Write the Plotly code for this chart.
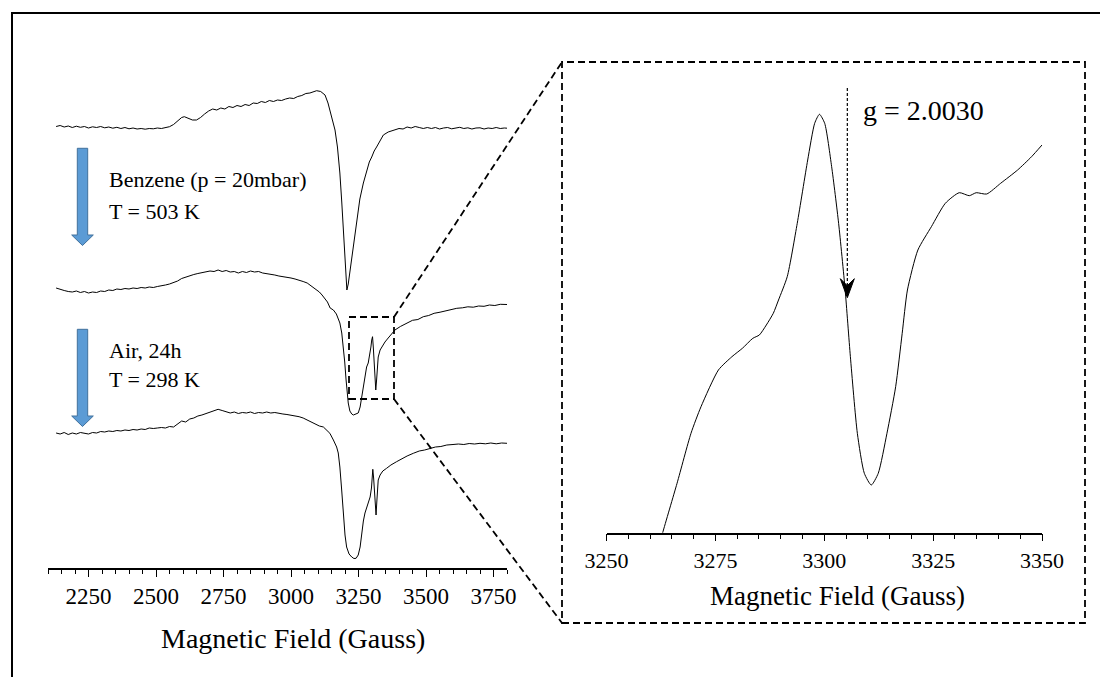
import plotly.graph_objects as go

# ---------------- data ----------------
# Left panel: three stacked EPR spectra, field in Gauss, signal in arbitrary units
field_top = [2130, 2145, 2160, 2175, 2190, 2205, 2220, 2235, 2250, 2265,
             2280, 2295, 2310, 2325, 2340, 2355, 2370, 2385, 2400, 2415,
             2430, 2445, 2460, 2475, 2490, 2505, 2520, 2535, 2550, 2565,
             2580, 2595, 2605, 2620, 2635, 2650, 2665, 2680, 2695, 2710,
             2725, 2740, 2755, 2770, 2785, 2800, 2815, 2830, 2845, 2860,
             2875, 2890, 2905, 2920, 2935, 2950, 2965, 2980, 2995, 3010,
             3025, 3040, 3055, 3070, 3085, 3095, 3110, 3126, 3137, 3144,
             3153, 3163, 3172, 3181, 3188, 3194, 3199, 3203, 3207, 3212,
             3219, 3230, 3243, 3255, 3268, 3280, 3290, 3299, 3308, 3317,
             3330, 3342, 3360, 3379, 3400, 3415, 3430, 3445, 3460, 3475,
             3490, 3505, 3520, 3535, 3550, 3565, 3580, 3595, 3610, 3625,
             3640, 3655, 3670, 3685, 3700, 3715, 3730, 3745, 3760, 3775,
             3790, 3800]
sig_top = [0.5, 1.5, 0, 1, -0.5, 0.8, -0.3, 0.5, -1, 0.2,
           -0.5, 0.5, -0.8, 0, -1.2, -0.3, -1.5, -0.5, -1.8, -1,
           -2, -1.5, -2.2, -1.5, -1.8, -1, -1.5, -0.5, 0.3, 2.5,
           6, 9.5, 10.3, 8.5, 7, 7, 9.5, 13, 16, 18,
           17, 19, 18, 20.5, 19.5, 21.5, 20.5, 22.5, 21.5, 24,
           23.5, 25.5, 24.5, 26.5, 25.5, 27, 26.5, 28, 29, 28.5,
           30.5, 31.5, 33.5, 34, 35.5, 36.3, 35.5, 32, 24, 17,
           7, -3, -20, -46, -75, -103, -130, -153, -163, -157,
           -143, -118, -93, -72, -56, -43, -35, -30, -24, -20,
           -13, -8, -5, -3, -1.5, -2, 0, -1, 0.5, -0.5,
           -1.5, -0.5, -1.5, -0.5, -2, -1, -0.5, -1.8, -1, -0.3,
           -1.5, -0.8, -2, -1, -0.8, -2, -1, -1.5, -0.5, -1.5,
           -1, -1.2]

field_mid = [2130, 2145, 2160, 2175, 2190, 2205, 2220, 2235, 2250, 2265,
             2280, 2295, 2310, 2325, 2340, 2355, 2370, 2385, 2400, 2415,
             2430, 2445, 2460, 2475, 2490, 2505, 2520, 2535, 2550, 2565,
             2580, 2595, 2610, 2625, 2640, 2655, 2670, 2685, 2700, 2715,
             2730, 2745, 2760, 2775, 2790, 2805, 2820, 2835, 2850, 2865,
             2880, 2895, 2910, 2925, 2940, 2955, 2970, 2985, 3000, 3015,
             3030, 3045, 3060, 3075, 3090, 3105, 3115, 3125, 3135, 3145,
             3157, 3168, 3181, 3188, 3194, 3199, 3204, 3208, 3212, 3218,
             3225, 3231, 3240, 3249, 3256, 3262, 3268, 3274, 3280, 3286,
             3291, 3296, 3299, 3302, 3305, 3308, 3311, 3314, 3317, 3320,
             3323, 3330, 3336, 3348, 3360, 3372, 3385, 3405, 3428, 3450,
             3470, 3490, 3510, 3530, 3552, 3575, 3595, 3614, 3635, 3655,
             3675, 3695, 3715, 3735, 3755, 3775, 3800]
sig_mid = [2, 0.5, -0.5, -1.5, -2, -1, -2.5, -1.5, -3, -2,
           -2.5, -1, -1.5, 0, -0.5, 1, 0.5, 1.5, 1, 2,
           1.5, 2.5, 2, 3, 2.5, 3.5, 4, 5, 6, 7.5,
           9, 11.5, 13, 14, 15.5, 16.5, 17.5, 18, 19, 18.5,
           20, 18.5, 19.5, 18, 18.5, 17, 18.5, 17.5, 19, 18,
           18.5, 17, 16.5, 15.5, 15, 14, 13.5, 12.5, 12, 11,
           10, 8.5, 7, 4, 1, -2, -5, -8, -12, -18,
           -20, -24, -33, -43, -57, -72, -90, -102, -113, -121,
           -124, -125, -124, -123, -117, -107, -95, -83, -77, -73,
           -66, -57, -50, -46.7, -58, -73, -88, -100, -90, -75,
           -67, -60, -57, -52, -48, -44, -40, -36.5, -33.3, -30.3,
           -29.5, -26.7, -25.5, -23.3, -22.2, -20.5, -19.5, -18.3, -17.8, -16.8,
           -17.2, -16, -16.3, -15, -15.5, -14.3, -14.5]

field_bot = [2130, 2145, 2160, 2175, 2190, 2205, 2220, 2235, 2250, 2265,
             2280, 2295, 2310, 2325, 2340, 2355, 2370, 2385, 2400, 2415,
             2430, 2445, 2460, 2475, 2490, 2505, 2520, 2535, 2550, 2565,
             2580, 2595, 2610, 2625, 2640, 2655, 2670, 2685, 2700, 2715,
             2730, 2745, 2760, 2775, 2790, 2805, 2820, 2835, 2850, 2865,
             2880, 2895, 2910, 2925, 2940, 2955, 2970, 2985, 3000, 3015,
             3030, 3045, 3060, 3075, 3090, 3105, 3120, 3132, 3144, 3157,
             3169, 3175, 3181, 3188, 3194, 3200, 3206, 3215, 3225, 3233,
             3241, 3249, 3256, 3262, 3268, 3274, 3283, 3293, 3298, 3301,
             3303, 3306, 3309, 3312, 3315, 3318, 3320, 3323, 3330, 3340,
             3354, 3370, 3391, 3410, 3430, 3453, 3475, 3495, 3515, 3535,
             3555, 3577, 3600, 3620, 3640, 3660, 3680, 3700, 3720, 3740,
             3760, 3780, 3800]
sig_bot = [0, -1, 0.5, -1.5, 0, -1, 0.5, -0.5, -1, 0.5,
           0, 1.5, 1, 2, 1.5, 2.5, 2, 3, 2.5, 3.5,
           3, 4, 3.5, 5, 4.5, 5, 5.5, 5, 6.5, 6,
           9, 12, 11, 14, 15, 17, 18, 19.5, 20.5, 22,
           23.7, 22.5, 21, 20, 21, 19.5, 20.5, 20, 21, 19.5,
           20.5, 20, 21, 20, 20.5, 19.5, 19, 18.5, 18, 17,
           16.3, 15, 13, 11.5, 9.5, 7, 6, 3, -0.3, -7,
           -14, -20, -34, -58, -84, -102, -114, -121, -124, -125.5,
           -125.3, -122, -114, -100, -88, -80, -72, -64, -55, -42,
           -36.3, -45, -57, -72, -82, -68, -55, -47, -42, -38,
           -35.3, -32, -28.7, -25.5, -23, -20.3, -18, -17, -15.3, -14,
           -13.5, -12, -11.5, -11, -11.5, -10.5, -11, -10.3, -10.8, -10,
           -10.8, -10, -10.3]

trace_offsets = [441, 278, 135]     # vertical stacking of the three spectra

# Right panel: enlarged region of the middle spectrum
field_zoom = [3262.0, 3262.9, 3266.2, 3269.4, 3271.7, 3275.7, 3278.8, 3281.2,
              3283.6, 3285.1, 3286.7, 3288.3, 3289.5, 3291.5, 3293.8, 3296.2,
              3297.8, 3298.9, 3300.1, 3301.7, 3303.3, 3304.8, 3306.0, 3307.6,
              3309.2, 3310.8, 3312.4, 3314.4, 3316.4, 3317.9, 3319.1, 3321.5,
              3324.6, 3327.8, 3331.0, 3333.3, 3334.9, 3337.3, 3340.5, 3344.4,
              3347.6, 3350.0]
sig_zoom = [-15, 0, 49.4, 99.4, 126, 162.7, 176, 184.4,
            194.4, 197.7, 207.7, 219.4, 232.7, 256, 309.4, 372.7,
            409.4, 418.4, 409.4, 366, 309.4, 242.7, 176, 99.4,
            59.4, 47.7, 59.4, 99.4, 146, 199.4, 242.7, 282.7,
            306, 329.4, 340, 337, 340, 338.7, 349.4, 362.7,
            376, 387.7]

left_ticks = [2250, 2500, 2750, 3000, 3250, 3500, 3750]
right_ticks = [3250, 3275, 3300, 3325, 3350]
g_field = 3305.3          # position of the g = 2.0030 marker
g_tip = 235               # signal level where the marker arrow ends
g_label = "g = 2.0030"
axis_title = "Magnetic Field (Gauss)"
step_labels = [("Benzene (p = 20mbar)", "T = 503 K"), ("Air, 24h", "T = 298 K")]

# ---------------- figure ----------------
W, H = 1100, 677
def px(x):
    return x / W
def py(y):
    return 1 - y / H

SERIF = "Liberation Serif, Times New Roman, serif"

fig = go.Figure()
for f, s, off in zip([field_top, field_mid, field_bot],
                     [sig_top, sig_mid, sig_bot], trace_offsets):
    fig.add_trace(go.Scatter(x=f, y=[v + off for v in s], mode="lines",
                             line=dict(color="black", width=1.0),
                             xaxis="x", yaxis="y", hoverinfo="skip"))
fig.add_trace(go.Scatter(x=field_zoom, y=sig_zoom, mode="lines",
                         line=dict(color="black", width=1.0, shape="spline", smoothing=0.6),
                         xaxis="x2", yaxis="y2", hoverinfo="skip"))

axis_common = dict(showline=True, linecolor="black", linewidth=1.5,
                   ticks="outside", ticklen=7, tickwidth=1.3, tickcolor="black",
                   showgrid=False, zeroline=False, tickmode="array", automargin=False,
                   tickfont=dict(family=SERIF, size=23, color="black"))

fig.update_layout(
    template="none",
    width=W, height=H, margin=dict(l=0, r=0, t=0, b=0, autoexpand=False),
    paper_bgcolor="white", plot_bgcolor="white", showlegend=False,
    xaxis=dict(domain=[px(48), px(507)], range=[2100, 3800], tickvals=left_ticks,
               minor=dict(ticks="outside", dtick=50, tick0=2100, ticklen=4.5,
                          tickwidth=1.2, tickcolor="black"),
               anchor="y", **axis_common),
    yaxis=dict(domain=[py(568), py(88)], range=[0, 480], visible=False, anchor="x",
               automargin=False),
    xaxis2=dict(domain=[px(606.5), px(1042)], range=[3250, 3350], tickvals=right_ticks,
                minor=dict(ticks="outside", dtick=5, tick0=3250, ticklen=4.5,
                           tickwidth=1.2, tickcolor="black"),
                anchor="y2", **axis_common),
    yaxis2=dict(domain=[py(532.7), py(62.7)], range=[0, 470], visible=False, anchor="x2",
                automargin=False),
)
fig.update_xaxes(tickfont_size=22, selector=dict(anchor="y2"))

shapes = []
# outer frame (left and top sides visible; kept inside the page)
shapes.append(dict(type="path", xref="paper", yref="paper",
                   path=f"M {px(12):.5f},0 L {px(12):.5f},{py(13):.5f} L 1,{py(13):.5f}",
                   line=dict(color="black", width=2)))
DASH = dict(color="black", width=1.8, dash="7px,4px")
# zoom box on left panel and enlarged box on the right
shapes.append(dict(type="rect", xref="paper", yref="paper",
                   x0=px(349), y0=py(399), x1=px(394), y1=py(317), line=DASH))
shapes.append(dict(type="rect", xref="paper", yref="paper",
                   x0=px(562), y0=py(623), x1=px(1085), y1=py(62), line=DASH))
# connectors
shapes.append(dict(type="line", xref="paper", yref="paper",
                   x0=px(394), y0=py(317), x1=px(562), y1=py(62), line=DASH))
shapes.append(dict(type="line", xref="paper", yref="paper",
                   x0=px(394), y0=py(399), x1=px(562), y1=py(623), line=DASH))
# blue block arrows
for top, head, tip in [(148.3, 235, 245.5), (329.3, 416, 426.5)]:
    pts = [(77.3, top), (87.7, top), (87.7, head), (93.3, head), (82.5, tip),
           (71.7, head), (77.3, head)]
    path = "M " + " L ".join(f"{px(a):.5f},{py(b):.5f}" for a, b in pts) + " Z"
    shapes.append(dict(type="path", xref="paper", yref="paper", path=path,
                       fillcolor="#5B9BD5", line=dict(color="#41719C", width=1)))
# dotted marker line for g value
shapes.append(dict(type="line", xref="x2", yref="y2",
                   x0=g_field, x1=g_field, y0=444.7, y1=g_tip + 8,
                   line=dict(color="black", width=1.2, dash="3px,2px")))
# stealth arrowhead (pixel-sized, anchored at the tip)
shapes.append(dict(type="path", xref="x2", yref="y2",
                   xsizemode="pixel", ysizemode="pixel",
                   xanchor=g_field, yanchor=g_tip,
                   path="M 0,0 L -7,19 L 0,12 L 7,19 Z",
                   fillcolor="black", line=dict(color="black", width=1)))
fig.update_layout(shapes=shapes)

ann = []
ann.append(dict(x=px(861), y=py(110), xref="paper", yref="paper", text=g_label,
                showarrow=False, xanchor="left", yanchor="middle",
                font=dict(family=SERIF, size=28, color="black")))
ann.append(dict(x=px(292.5), y=py(638), xref="paper", yref="paper", text=axis_title,
                showarrow=False, xanchor="center", yanchor="middle",
                font=dict(family=SERIF, size=28, color="black")))
ann.append(dict(x=px(837), y=py(596), xref="paper", yref="paper", text=axis_title,
                showarrow=False, xanchor="center", yanchor="middle",
                font=dict(family=SERIF, size=27, color="black")))
for (l1, l2), (y1, y2) in zip(step_labels, [(180, 211), (350, 379)]):
    for txt, yy in [(l1, y1), (l2, y2)]:
        ann.append(dict(x=px(107), y=py(yy), xref="paper", yref="paper", text=txt,
                        showarrow=False, xanchor="left", yanchor="middle",
                        font=dict(family=SERIF, size=22, color="black")))
fig.update_layout(annotations=ann)

fig.write_html("out.html")
